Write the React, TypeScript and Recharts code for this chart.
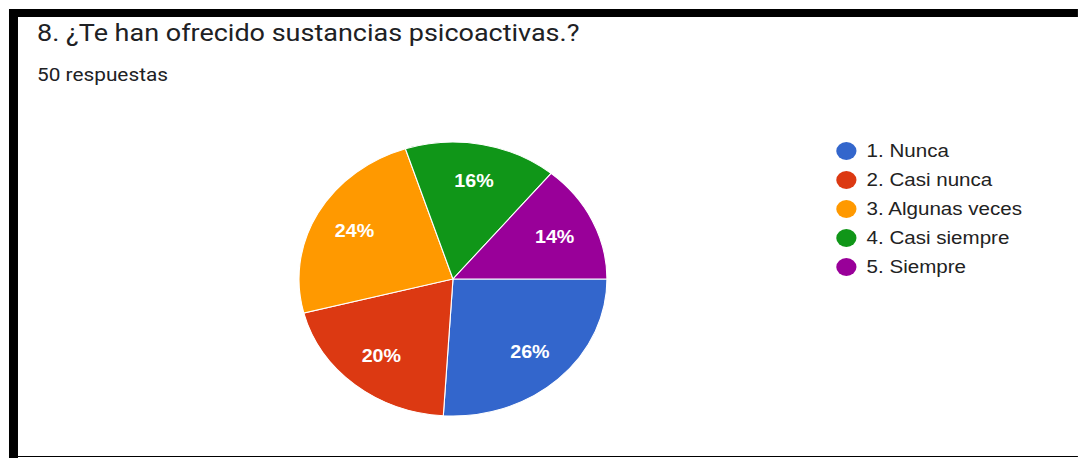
import { PieChart, Pie, Cell } from "recharts";

const categories = ["1. Nunca", "2. Casi nunca", "3. Algunas veces", "4. Casi siempre", "5. Siempre"];
const counts = [13, 10, 12, 8, 7];
const colors = ["#3366cc", "#dc3912", "#ff9900", "#109618", "#990099"];
const title = "8. ¿Te han ofrecido sustancias psicoactivas.?";
const subtitle = "50 respuestas";

const data = categories.map((name, i) => ({ name, value: counts[i] }));

const RAD = Math.PI / 180;

// the screenshot is stretched sideways, so the whole card is drawn narrower and scaled
const STRETCH = 1.124;

function renderLabel(props: any) {
  const { cx, cy, midAngle, percent } = props;
  const r = 100;
  const x = cx + r * Math.cos(-midAngle * RAD);
  const y = cy + r * Math.sin(-midAngle * RAD);
  return (
    <text
      x={x}
      y={y}
      fill="#ffffff"
      textAnchor="middle"
      dominantBaseline="central"
      fontFamily="Arial, 'Liberation Sans', sans-serif"
      fontSize={17.5}
      fontWeight="bold"
    >
      {`${Math.round(percent * 100)}%`}
    </text>
  );
}

export default function App() {
  return (
    <div
      style={{
        position: "fixed",
        left: 0,
        top: 0,
        width: 1078 / STRETCH,
        height: 458,
        background: "#fff",
        transform: `scaleX(${STRETCH})`,
        transformOrigin: "0 0",
        overflow: "hidden",
      }}
    >
      {/* black frame */}
      <div style={{ position: "absolute", left: 8, top: 9, right: 0, height: 8, background: "#000" }} />
      <div style={{ position: "absolute", left: 8, top: 9, width: 7.5, height: 449, background: "#000" }} />
      <div style={{ position: "absolute", left: 8, top: 455.5, right: 0, height: 1.5, background: "#000" }} />

      <div
        style={{
          position: "absolute",
          left: 33,
          top: 19,
          fontFamily: "Roboto, Arial, sans-serif",
          fontSize: 24,
          color: "#202124",
          whiteSpace: "nowrap",
          lineHeight: "29px",
        }}
      >
        {title}
      </div>
      <div
        style={{
          position: "absolute",
          left: 33,
          top: 64,
          fontFamily: "Roboto, Arial, sans-serif",
          fontSize: 18.5,
          color: "#202124",
          whiteSpace: "nowrap",
          lineHeight: "23px",
        }}
      >
        {subtitle}
      </div>

      <div style={{ position: "absolute", left: 253, top: 129 }}>
        <PieChart width={300} height={300} margin={{ top: 0, right: 0, bottom: 0, left: 0 }}>
          <Pie
            data={data}
            dataKey="value"
            cx={150}
            cy={150}
            outerRadius={137}
            startAngle={0}
            endAngle={-360}
            stroke="#ffffff"
            strokeWidth={1}
            label={renderLabel}
            labelLine={false}
            isAnimationActive={false}
          >
            {data.map((entry, index) => (
              <Cell key={`cell-${index}`} fill={colors[index]} />
            ))}
          </Pie>
        </PieChart>
      </div>

      {categories.map((name, i) => (
        <div
          key={name}
          style={{
            position: "absolute",
            left: 744,
            top: 151 + i * 29 - 11,
            height: 22,
            display: "flex",
            alignItems: "center",
            whiteSpace: "nowrap",
          }}
        >
          <div style={{ width: 18, height: 18, borderRadius: "50%", background: colors[i] }} />
          <span
            style={{
              marginLeft: 9,
              fontFamily: "Arial, 'Liberation Sans', sans-serif",
              fontSize: 18.3,
              color: "#222222",
            }}
          >
            {name}
          </span>
        </div>
      ))}
    </div>
  );
}
